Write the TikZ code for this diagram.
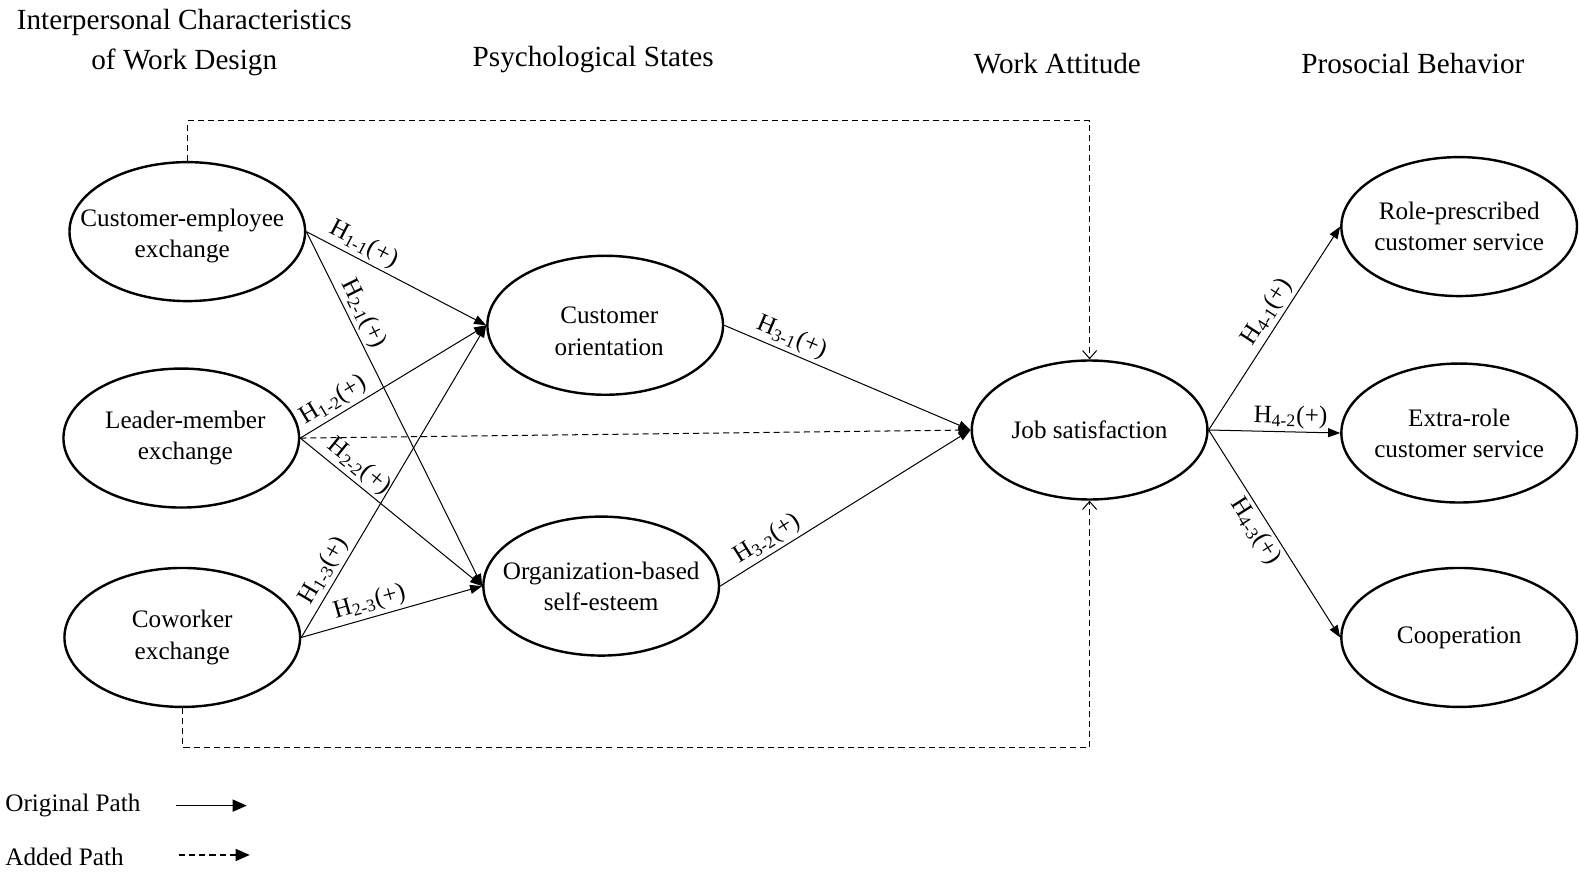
\documentclass[tikz,border=0pt]{standalone}
\usepackage{fontspec}
\setmainfont{Liberation Serif}
\usetikzlibrary{arrows.meta,shapes.geometric}
\begin{document}
\begin{tikzpicture}[x=0.5pt,y=-0.5pt,
  el/.style={draw, line width=1.2pt, ellipse, minimum width=117pt, minimum height=69pt, inner sep=0pt},
  lbl/.style={align=center, font=\fontsize{12.5}{15.5}\selectfont, inner sep=0pt},
  hd/.style={align=center, font=\fontsize{14.5}{20}\selectfont, inner sep=0pt},
  tip/.style={-{Triangle[length=6pt,width=4.5pt]}},
  con/.style={line width=0.5pt, tip},
  dsh/.style={line width=0.5pt, dash pattern=on 3pt off 2pt},
  hl/.style={font=\fontsize{12.5}{15}\selectfont, inner sep=1.5pt, sloped}]
\useasboundingbox (0,0) rectangle (1568,867);

% headers
\node[hd] (h1) at (183,42) {Interpersonal Characteristics\\of Work Design};
\node[hd] (h2) at (589,59) {Psychological States};
\node[hd] (h3) at (1050,63) {Work Attitude};
\node[hd] (h4) at (1403,63) {Prosocial Behavior};

% ellipses
\node[el, label={[lbl,yshift=-2pt,xshift=-2.5pt]center:Customer-employee\\exchange}] (ce) at (186,230) {};
\node[el, label={[lbl,xshift=2pt]center:Leader-member\\exchange}] (lm) at (180,435) {};
\node[el, label={[lbl]center:Coworker\\exchange}] (cw) at (181,633) {};
\node[el, label={[lbl,yshift=-3pt,xshift=2pt]center:Customer\\orientation}] (co) at (601,323) {};
\node[el, label={[lbl]center:Organization-based\\self-esteem}] (ob) at (597,582) {};
\node[el, label={[lbl]center:Job satisfaction}] (js) at (1082,427) {};
\node[el, label={[lbl]center:Role-prescribed\\customer service}] (rp) at (1449,225) {};
\node[el, label={[lbl]center:Extra-role\\customer service}] (er) at (1449,430) {};
\node[el, label={[lbl]center:Cooperation}] (cp) at (1449,633) {};

% original paths
\draw[con] (ce.east) -- node[hl, above, pos=0.28] {H\textsubscript{1-1}(+)} (co.west);
\draw[con] (ce.east) -- node[hl, above, pos=0.25] {H\textsubscript{2-1}(+)} (ob.west);
\draw[con] (lm.east) -- node[hl, above, pos=0.22] {H\textsubscript{1-2}(+)} (co.west);
\draw[con] (lm.east) -- node[hl, above, pos=0.27] {H\textsubscript{2-2}(+)} (ob.west);
\draw[con] (cw.east) -- node[hl, above, pos=0.19] {H\textsubscript{1-3}(+)} (co.west);
\draw[con] (cw.east) -- node[hl, above, pos=0.40] {H\textsubscript{2-3}(+)} (ob.west);
\draw[con] (co.east) -- node[hl, above, pos=0.25] {H\textsubscript{3-1}(+)} (js.west);
\draw[con] (ob.east) -- node[hl, above, pos=0.22] {H\textsubscript{3-2}(+)} (js.west);
\draw[con] (js.east) -- node[hl, above, pos=0.54] {H\textsubscript{4-1}(+)} (rp.west);
\draw[con] (js.east) -- node[hl, above, pos=0.62] {H\textsubscript{4-2}(+)} (er.west);
\draw[con] (js.east) -- node[hl, below, pos=0.45] {H\textsubscript{4-3}(+)} (cp.west);

% added paths
\coordinate (topy) at (0,120);
\coordinate (boty) at (0,742);
\draw[dsh, tip] (lm.east) -- (js.west);
\draw[dsh, -{Straight Barb[length=4pt,width=7pt]}] (ce.north) -- (ce.north |- topy) -- (js.north |- topy) -- (js.north);
\draw[dsh, -{Straight Barb[length=4pt,width=7pt]}] (cw.south) -- (cw.south |- boty) -- (js.south |- boty) -- (js.south);

% legend
\node[lbl, anchor=west] (lg1) at (5,800) {Original Path};
\node[lbl, anchor=west] (lg2) at (5,851) {Added Path};
\coordinate (l1s) at (175,800);
\coordinate (l1e) at (245,800);
\coordinate (l2s) at (178,849);
\coordinate (l2e) at (248,849);
\draw[line width=0.7pt, -{Triangle[length=7pt,width=6pt]}] (l1s) -- (l1e);
\draw[dsh, line width=0.6pt, -{Triangle[length=7pt,width=6pt]}] (l2s) -- (l2e);
\end{tikzpicture}
\end{document}
